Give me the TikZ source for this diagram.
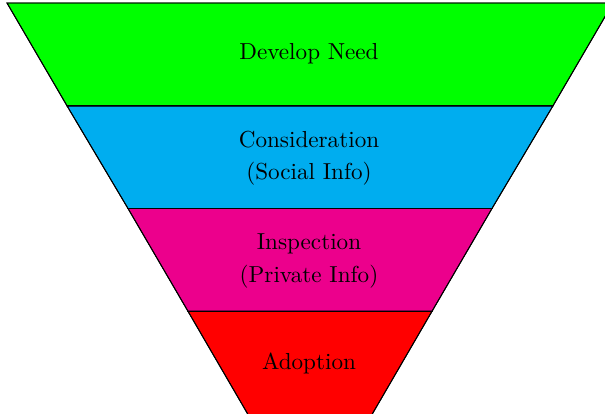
\documentclass[tikz,border=0pt]{standalone}
\usepackage[dvipsnames]{xcolor}
\begin{document}
\begin{tikzpicture}[x=0.432pt,y=-0.432pt,
  band/.style={draw=black,line width=0.4pt},
  lbl/.style={align=center,font=\normalsize}]
\useasboundingbox (0,0) rectangle (605,414);
\clip (0,0) rectangle (605,414);
\fill[band,fill=green] (7,3) -- (613,3) -- (553,105.8) -- (67,105.8) -- cycle;
\fill[band,fill=Cyan] (67,105.8) -- (553,105.8) -- (492,208.5) -- (128,208.5) -- cycle;
\fill[band,fill=Magenta] (128,208.5) -- (492,208.5) -- (432,311.3) -- (188,311.3) -- cycle;
\fill[band,fill=red] (188,311.3) -- (432,311.3) -- (372,414.5) -- (248,414.5) -- cycle;
\draw[band] (7,3) -- (613,3) -- (553,105.8) -- (67,105.8) -- cycle;
\draw[band] (67,105.8) -- (553,105.8) -- (492,208.5) -- (128,208.5) -- cycle;
\draw[band] (128,208.5) -- (492,208.5) -- (432,311.3) -- (188,311.3) -- cycle;
\draw[band] (188,311.3) -- (432,311.3) -- (372,414.5) -- (248,414.5) -- cycle;
\node[lbl] (need) at (309,53.5) {Develop Need};
\node[lbl] (cons) at (309,158.5) {Consideration\\[2pt](Social Info)};
\node[lbl] (insp) at (309,261) {Inspection\\[2pt](Private Info)};
\node[lbl] (adop) at (309,363.5) {Adoption};
\end{tikzpicture}
\end{document}
